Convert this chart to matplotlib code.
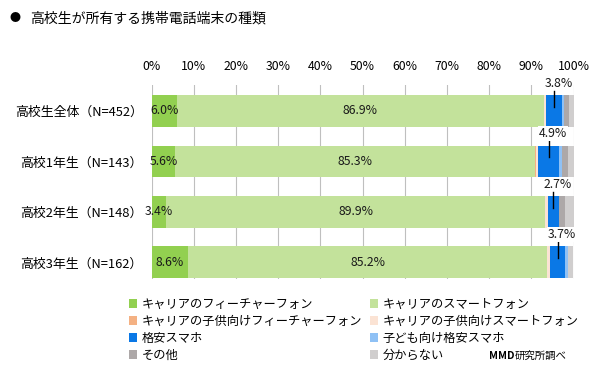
import numpy as np
import matplotlib
matplotlib.use("Agg")
import matplotlib.pyplot as plt
from matplotlib.patches import Patch

plt.rcParams['font.family'] = ['Noto Sans CJK JP', 'DejaVu Sans']

# dados
categorias = ['高校生全体（N=452）', '高校1年生（N=143）', '高校2年生（N=148）', '高校3年生（N=162）']
series = ['キャリアのフィーチャーフォン', 'キャリアのスマートフォン',
          'キャリアの子供向けフィーチャーフォン', 'キャリアの子供向けスマートフォン',
          '格安スマホ', '子ども向け格安スマホ', 'その他', '分からない']
cores = ['#92D050', '#C3E29B', '#F4B183', '#FBE3D4',
         '#0A78E6', '#8FC1F5', '#ADA8A8', '#D0CECE']

feature = [6.0, 5.6, 3.4, 8.6]
smart = [86.9, 85.3, 89.9, 85.2]
kid_feature = [0.2, 0.3, 0.0, 0.0]
kid_smart = [0.4, 0.5, 0.6, 0.6]
kakuyasu = [3.8, 4.9, 2.7, 3.7]
kid_kakuyasu = [0.5, 0.6, 0.0, 0.6]
sonota = [1.2, 1.4, 1.4, 0.1]
wakaranai = [1.2, 1.4, 2.0, 1.2]

valores = [feature, smart, kid_feature, kid_smart, kakuyasu, kid_kakuyasu, sonota, wakaranai]

fig = plt.figure(figsize=(5.93, 3.68), dpi=100)
W, H = 593, 368
ax = fig.add_axes([151.7 / W, 1 - 279 / H, (573.5 - 151.7) / W, (279 - 85) / H])

y = np.arange(len(categorias))
left = np.zeros(len(categorias))
for nome, vals, cor in zip(series, valores, cores):
    vals = np.array(vals)
    ax.barh(y, vals, left=left, height=0.63, color=cor, label=nome, zorder=2)
    left += vals

# rótulos
for i in range(len(categorias)):
    ax.text(feature[i] / 2, y[i], '%.1f%%' % feature[i], ha='center', va='center',
            fontsize=8.8, color='#1a1a1a', zorder=5)
    ax.text(feature[i] + smart[i] / 2, y[i], '%.1f%%' % smart[i], ha='center', va='center',
            fontsize=8.8, color='#1a1a1a', zorder=5)
    base = feature[i] + smart[i] + kid_feature[i] + kid_smart[i]
    xc = base + kakuyasu[i] / 2
    ax.plot([xc, xc], [y[i] - 0.40, y[i] - 0.08], color='black', lw=1.0, zorder=6)
    ax.text(xc + 1.0, y[i] - 0.55, '%.1f%%' % kakuyasu[i], ha='center', va='center',
            fontsize=8.8, color='#1a1a1a', zorder=7,
            bbox=dict(facecolor='white', edgecolor='none', pad=0.5))

ax.set_xlim(0, 100)
ax.set_ylim(3.33, -0.515)
ax.set_xticks(np.arange(0, 101, 10))
ax.set_xticklabels(['%d%%' % v for v in range(0, 101, 10)])
ax.xaxis.tick_top()
ax.set_yticks(y)
ax.set_yticklabels(categorias)
ax.tick_params(axis='x', length=0, pad=9, labelsize=8.8)
ax.tick_params(axis='y', length=0, pad=6.5, labelsize=9.3)
ax.grid(axis='x', color='#BFBFBF', lw=0.8)
ax.set_axisbelow(True)
for s in ax.spines.values():
    s.set_visible(False)

# legenda
ordem = [0, 2, 4, 6, 1, 3, 5, 7]
handles = [Patch(facecolor=cores[k], edgecolor='none', label=series[k]) for k in ordem]
fig.legend(handles=handles, ncol=2, loc='upper left', bbox_to_anchor=(124 / W, 1 - 293 / H),
           frameon=False, fontsize=8.8, handlelength=0.7, handleheight=0.7,
           handletextpad=0.35, labelspacing=0.33, columnspacing=0.6, borderaxespad=0)

# título e fonte
fig.text(10 / W, 1 - 18 / H, '●', fontsize=8, va='center', ha='left')
fig.text(30 / W, 1 - 18 / H, '高校生が所有する携帯電話端末の種類', fontsize=10, va='center', ha='left')
fig.text(515 / W, 1 - 356 / H, 'MMD', fontsize=7.5, fontweight='bold', va='center', ha='right')
fig.text(515 / W, 1 - 356 / H, '研究所調べ', fontsize=7.5, va='center', ha='left')

fig.savefig('out.png', dpi=100)
